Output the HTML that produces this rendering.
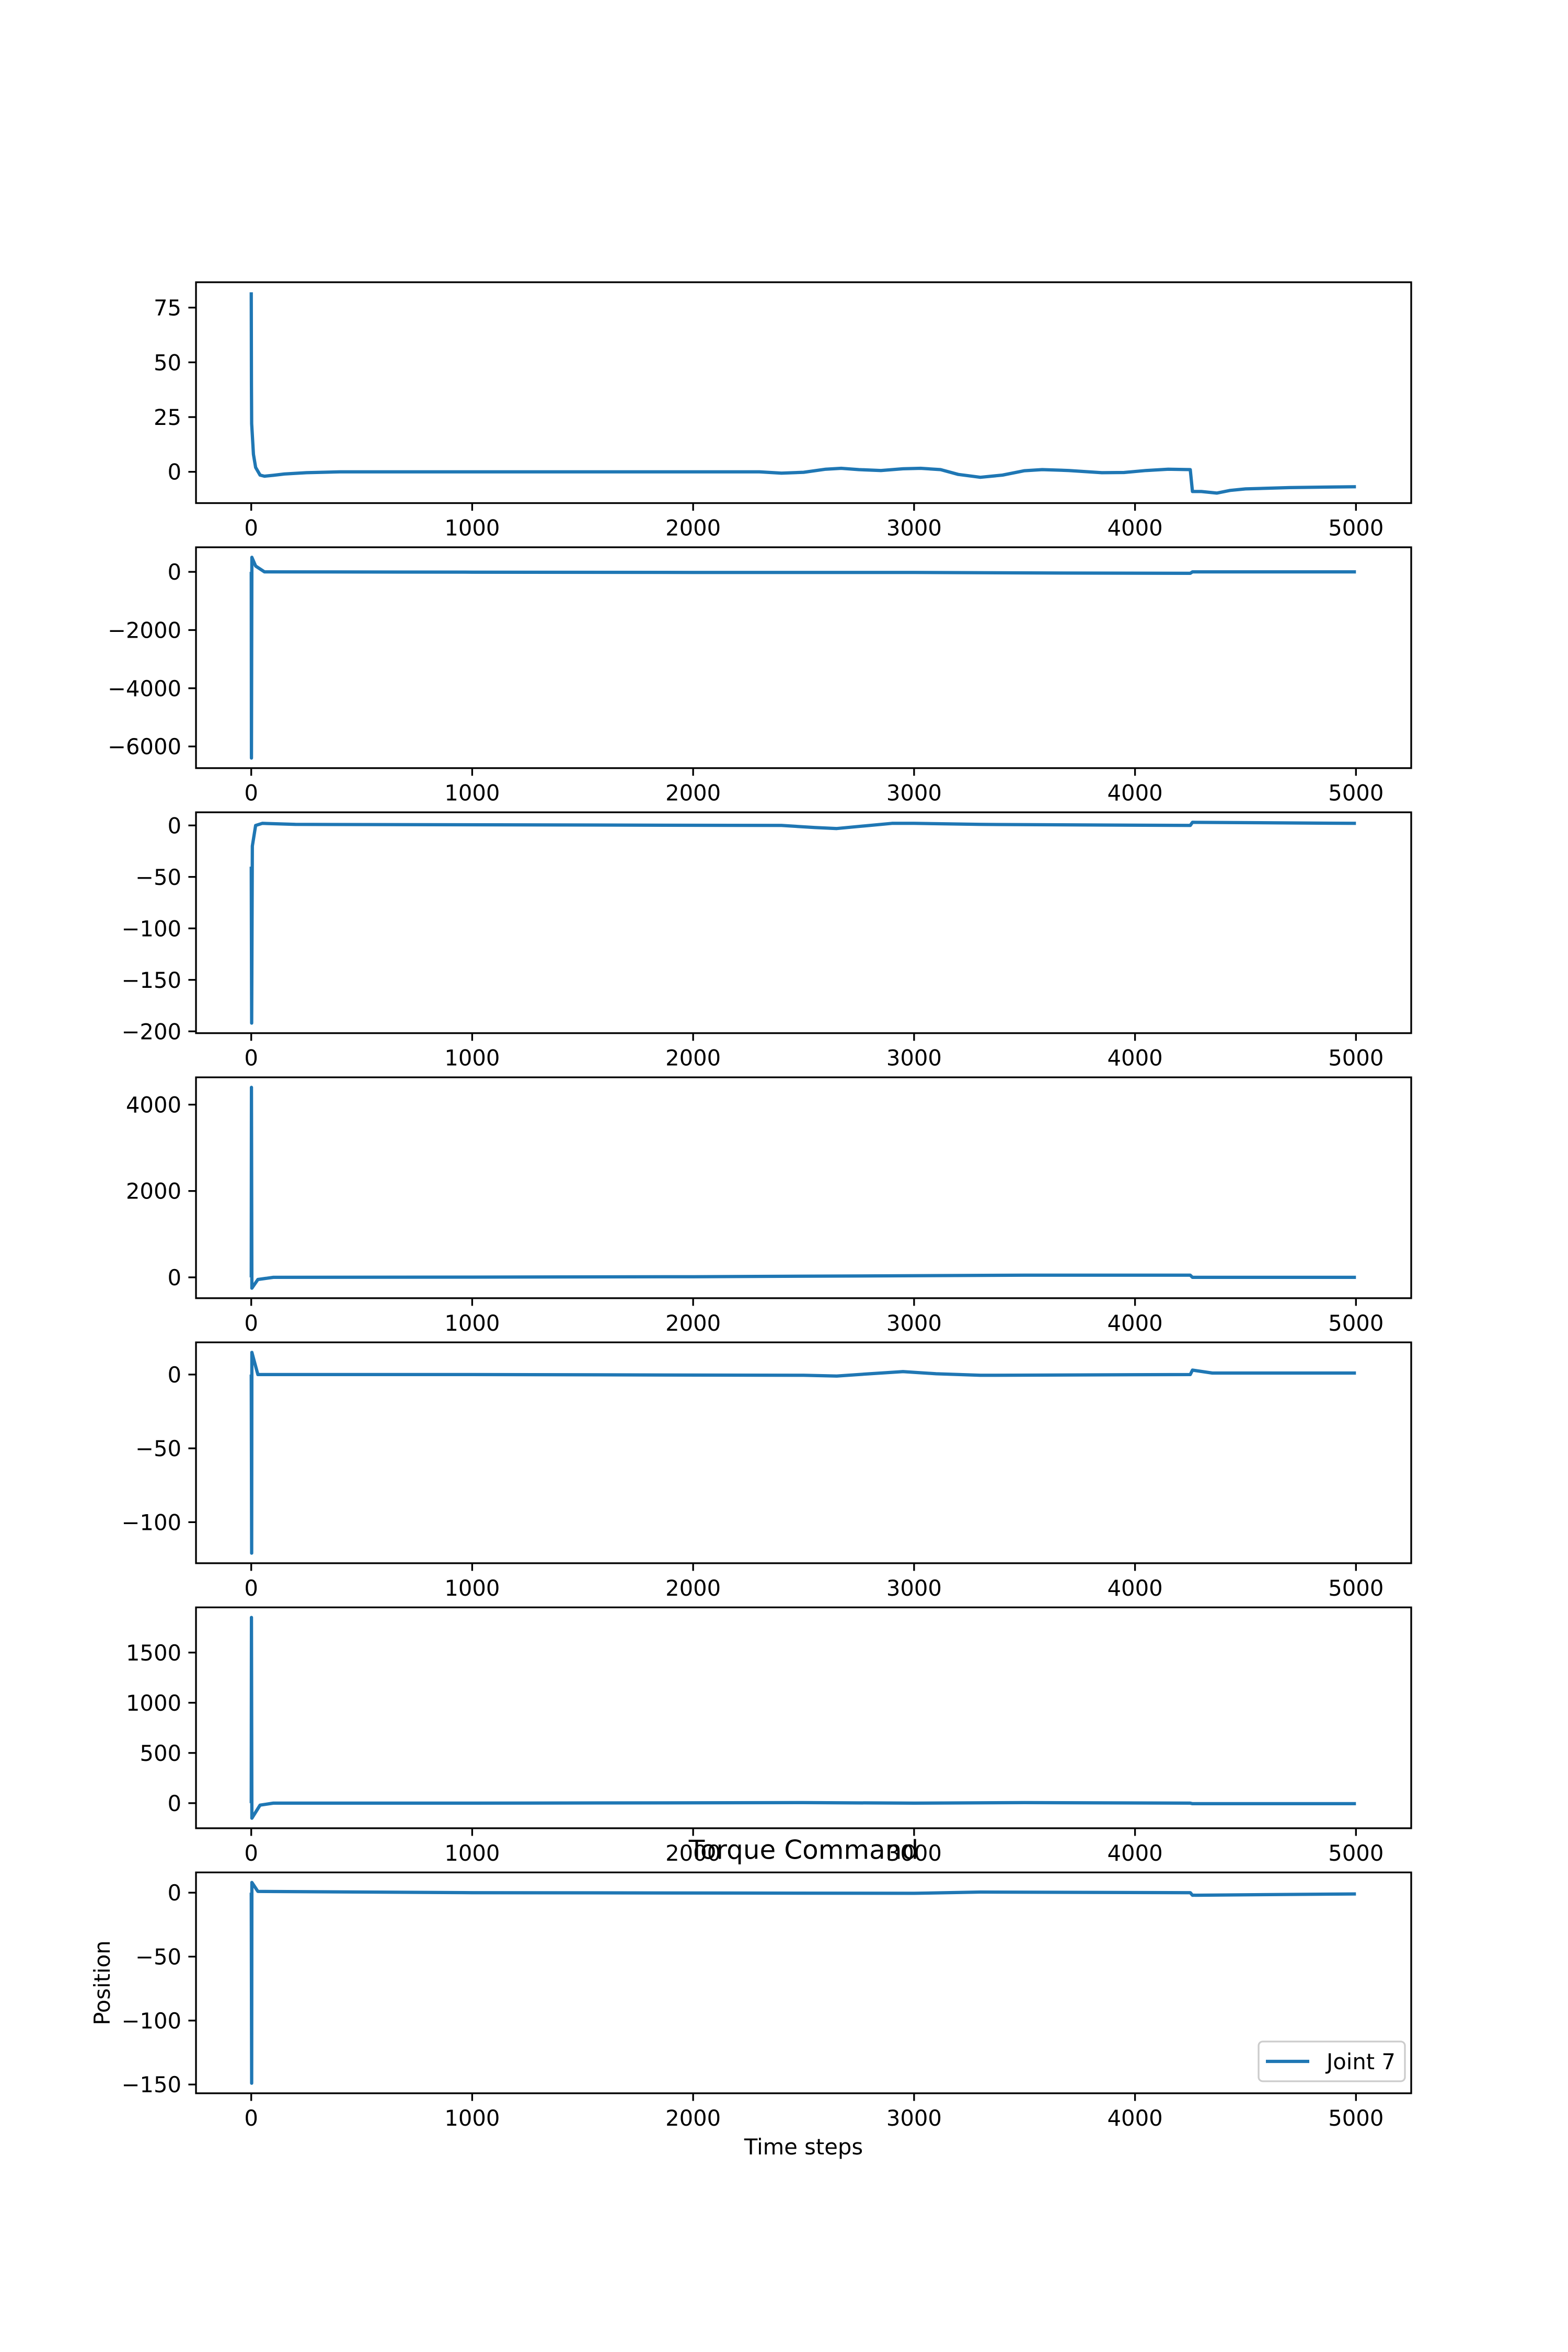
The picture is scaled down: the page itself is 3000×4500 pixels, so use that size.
<!DOCTYPE html>
<html><head><meta charset="utf-8"><style>html,body{margin:0;padding:0;background:#fff}svg{display:block}</style></head>
<body>
<svg id="fig" xmlns="http://www.w3.org/2000/svg" width="3000" height="4500" viewBox="0 0 3000 4500" font-family="'DejaVu Sans','Liberation Sans',sans-serif"></svg>
<script>
const xTicks = [0, 1000, 2000, 3000, 4000, 5000];
const xTickLabels = ["0","1000","2000","3000","4000","5000"];
const xDomain = [-250, 5250];
const p1T = [0,1,2,10,20,40,60,100,150,250,400,1000,2300,2400,2500,2600,2670,2750,2850,2950,3030,3120,3200,3300,3400,3500,3580,3700,3850,3950,4050,4150,4250,4260,4300,4370,4430,4500,4700,5000];
const p1V = [82,40,22,8,2,-1.5,-2,-1.6,-1,-0.4,0,0,0,-0.6,-0.2,1.2,1.6,1.0,0.6,1.4,1.6,1.0,-1.2,-2.5,-1.5,0.5,1.0,0.6,-0.4,-0.3,0.6,1.2,1.0,-9,-9,-9.7,-8.5,-7.8,-7.2,-6.8];
const p2T = [0,1,3,20,60,1000,2000,3000,3600,4250,4260,5000];
const p2V = [0,-6400,500,200,0,-10,-20,-20,-40,-50,0,0];
const p3T = [0,2,5,20,50,200,2400,2550,2650,2750,2900,3000,3300,4250,4260,5000];
const p3V = [-40,-192,-20,0,2,1,0,-2,-3,-1,2,2,1,0,3,2];
const p4T = [0,1,3,30,100,1000,2000,3500,4250,4260,5000];
const p4V = [0,4400,-250,-50,0,5,15,50,50,0,0];
const p5T = [0,2,3,30,1000,2500,2650,2800,2950,3100,3300,4250,4260,4350,5000];
const p5V = [0,-121,15,0,0,-0.5,-1,0.5,2,0.5,-0.5,0,3,1,1];
const p6T = [0,1,3,40,100,1000,2500,3000,3500,4250,4260,5000];
const p6V = [0,1850,-150,-20,0,0,5,0,5,0,-5,-5];
const p7T = [0,2,3,30,1000,3000,3300,4250,4260,5000];
const p7V = [0,-149,8,1,0,-0.5,0.5,0,-2,-1];
const yTicks = [[0,25,50,75],[-6000,-4000,-2000,0],[-200,-150,-100,-50,0],[0,2000,4000],[-100,-50,0],[0,500,1000,1500],[-150,-100,-50,0]];
const yTickLabels = [["0","25","50","75"],["\u22126000","\u22124000","\u22122000","0"],["\u2212200","\u2212150","\u2212100","\u221250","0"],["0","2000","4000"],["\u2212100","\u221250","0"],["0","500","1000","1500"],["\u2212150","\u2212100","\u221250","0"]];
const series = [[p1T,p1V],[p2T,p2V],[p3T,p3V],[p4T,p4V],[p5T,p5V],[p6T,p6V],[p7T,p7V]];

const NS="http://www.w3.org/2000/svg";
const svg=document.getElementById('fig');
function mk(tag,attrs,parent){const e=document.createElementNS(NS,tag);for(const k in attrs)e.setAttribute(k,attrs[k]);(parent||svg).appendChild(e);return e;}
const L=375,R=2700,H=422.56,GAP=84.51,TOP=540;
const sx=v=>L+(v-xDomain[0])/(xDomain[1]-xDomain[0])*(R-L);
series.forEach((s,i)=>{
  const top=TOP+i*(H+GAP),bot=top+H;
  const g=mk('g',{});
  
  
  const mn=Math.min(...s[1]),mx=Math.max(...s[1]),pad=(mx-mn)*0.05;
  const y0=mn-pad,y1=mx+pad;
  const sy=v=>bot-(v-y0)/(y1-y0)*H;
  const d=s[0].map((t,j)=>(j?'L':'M')+sx(t).toFixed(1)+','+sy(s[1][j]).toFixed(1)).join('');
  const ln=mk('path',{d:d,fill:'none',stroke:'#1f77b4','stroke-width':6.25,'stroke-linejoin':'round'},g);
  
  
  const fr=mk('rect',{x:L,y:top,width:R-L,height:H,fill:'none',stroke:'#000','stroke-width':3.33},g);
  
  
  xTicks.forEach((t,j)=>{
    mk('line',{x1:sx(t),x2:sx(t),y1:bot,y2:bot+14.6,stroke:'#000','stroke-width':3.33},g);
    const tx=mk('text',{x:sx(t),y:bot+62,'font-size':41.7,'text-anchor':'middle'},g);
    
    
    tx.textContent=xTickLabels[j];
  });
  yTicks[i].forEach((v,j)=>{
    mk('line',{x1:L,x2:L-14.6,y1:sy(v),y2:sy(v),stroke:'#000','stroke-width':3.33},g);
    const ty=mk('text',{x:L-28,y:sy(v)+15,'font-size':41.7,'text-anchor':'end'},g);
    
    
    ty.textContent=yTickLabels[i][j];
  });
  if(i===6){
    const title=mk('text',{x:(L+R)/2,y:top-26,'font-size':50,'text-anchor':'middle'},g);
    
    
    title.textContent='Torque Command';
    const xl=mk('text',{x:(L+R)/2,y:bot+117,'font-size':41.7,'text-anchor':'middle'},g);
    
    
    xl.textContent='Time steps';
    const yl=mk('text',{x:0,y:0,'font-size':41.7,'text-anchor':'middle',transform:`translate(210,${top+H/2}) rotate(-90)`},g);
    
    
    yl.textContent='Position';
    const lg=mk('g',{},g);
    
    
    mk('rect',{x:2408,y:bot-99,width:280,height:76,rx:8,fill:'#fff',stroke:'#ccc','stroke-width':3.3},lg);
    mk('line',{x1:2422,x2:2505,y1:bot-61,y2:bot-61,stroke:'#1f77b4','stroke-width':6.25},lg);
    const lt=mk('text',{x:2538,y:bot-46,'font-size':41.7},lg);
    
    
    lt.textContent='Joint 7';
  }
});
</script>
</body></html>
